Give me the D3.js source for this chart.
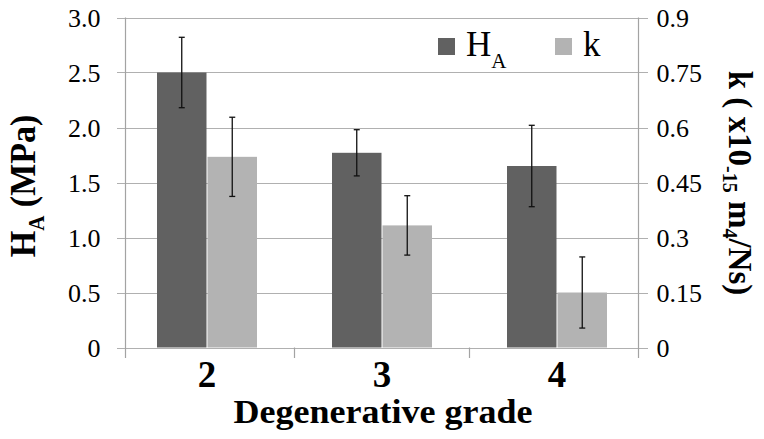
<!DOCTYPE html>
<html>
<head>
<meta charset="utf-8">
<script src="https://cdn.jsdelivr.net/npm/d3@7"></script>
<style>
  html, body { margin: 0; padding: 0; background: #fff; }
  svg { display: block; }
</style>
</head>
<body>
<svg id="chart" width="764" height="439"></svg>
<script>
// ---- data ----
const categories = ["2", "3", "4"];
const seriesNames = ["HA", "k"];
const haValues = [2.50, 1.77, 1.65];
const haErrors = [0.32, 0.21, 0.37];
const kValues = [0.52, 0.333, 0.15];
const kErrors = [0.108, 0.081, 0.097];
const leftTicks = [0, 0.5, 1.0, 1.5, 2.0, 2.5, 3.0];
const leftTickLabels = ["0", "0.5", "1.0", "1.5", "2.0", "2.5", "3.0"];
const rightTicks = [0, 0.15, 0.3, 0.45, 0.6, 0.75, 0.9];
const rightTickLabels = ["0", "0.15", "0.3", "0.45", "0.6", "0.75", "0.9"];

// ---- layout ----
const FONT = "'Liberation Serif', Tinos, 'Times New Roman', Times, 'Nimbus Roman', serif";
const svg = d3.select("#chart").style("font-family", FONT);
const plotLeft = 125.5, plotRight = 638.5, plotTop = 17.5, plotBottom = 347.5;
const darkColor = "#616161", lightColor = "#b3b3b3";
const gridColor = "#b0b0b0", axisColor = "#a3a3a3";

const yLeft = d3.scaleLinear().domain([0, 3]).range([plotBottom, plotTop]);
const yRight = d3.scaleLinear().domain([0, 0.9]).range([plotBottom, plotTop]);
const x0 = d3.scaleBand().domain(categories).range([119.5, 644.5]).padding(0);
const x1 = d3.scaleBand().domain(seriesNames).range([37.5, 137.5]).paddingInner(0.02);

// gridlines
svg.append("g").selectAll("line").data(leftTicks).join("line")
  .attr("x1", 117).attr("x2", 648)
  .attr("y1", d => Math.round(yLeft(d)) + 0.5).attr("y2", d => Math.round(yLeft(d)) + 0.5)
  .attr("stroke", gridColor).attr("stroke-width", 1.2);

// left axis (labels)
const leftAxis = d3.axisLeft(yLeft).tickValues(leftTicks)
  .tickFormat((d, i) => leftTickLabels[i]).tickSize(0).tickPadding(25);
const gL = svg.append("g").attr("transform", `translate(${plotLeft},0)`).call(leftAxis);
gL.attr("font-family", null).attr("font-size", null);
gL.select(".domain").remove();
gL.selectAll("text").style("font-size", "26px").style("font-family", FONT).attr("dy", "0.33em");

// right axis (labels)
const rightAxis = d3.axisRight(yRight).tickValues(rightTicks)
  .tickFormat((d, i) => rightTickLabels[i]).tickSize(0).tickPadding(18);
const gR = svg.append("g").attr("transform", `translate(${plotRight},0)`).call(rightAxis);
gR.attr("font-family", null).attr("font-size", null);
gR.select(".domain").remove();
gR.selectAll("text").style("font-size", "26px").style("font-family", FONT).attr("dy", "0.33em");

// vertical axis lines
svg.append("line").attr("x1", plotLeft).attr("x2", plotLeft).attr("y1", plotTop).attr("y2", 358)
  .attr("stroke", axisColor).attr("stroke-width", 1.2);
svg.append("line").attr("x1", plotRight).attr("x2", plotRight).attr("y1", plotTop).attr("y2", 358)
  .attr("stroke", axisColor).attr("stroke-width", 1.2);

// x category tick marks between groups
const boundaries = categories.slice(1).map(c => x0(c));
svg.append("g").selectAll("line").data(boundaries).join("line")
  .attr("x1", d => Math.round(d) - 0.5).attr("x2", d => Math.round(d) - 0.5)
  .attr("y1", plotBottom).attr("y2", 358)
  .attr("stroke", axisColor).attr("stroke-width", 1.2);

// bars
const rows = categories.map((c, i) => ({
  cat: c,
  items: [
    { s: "HA", v: haValues[i], e: haErrors[i], y: yLeft, color: darkColor },
    { s: "k", v: kValues[i], e: kErrors[i], y: yRight, color: lightColor }
  ]
}));

const groups = svg.append("g").selectAll("g").data(rows).join("g")
  .attr("transform", d => `translate(${x0(d.cat)},0)`);

groups.selectAll("rect").data(d => d.items).join("rect")
  .attr("x", d => x1(d.s))
  .attr("width", x1.bandwidth())
  .attr("y", d => d.y(d.v))
  .attr("height", d => d.y(0) - d.y(d.v))
  .attr("fill", d => d.color);

// error bars
const eb = groups.selectAll("g.err").data(d => d.items).join("g").attr("class", "err");
eb.append("line")
  .attr("x1", d => x1(d.s) + x1.bandwidth() / 2).attr("x2", d => x1(d.s) + x1.bandwidth() / 2)
  .attr("y1", d => d.y(d.v + d.e)).attr("y2", d => d.y(d.v - d.e))
  .attr("stroke", "#111").attr("stroke-width", 1.3);
["top", "bot"].forEach(k => {
  eb.append("line")
    .attr("x1", d => x1(d.s) + x1.bandwidth() / 2 - 3).attr("x2", d => x1(d.s) + x1.bandwidth() / 2 + 3)
    .attr("y1", d => d.y(k === "top" ? d.v + d.e : d.v - d.e))
    .attr("y2", d => d.y(k === "top" ? d.v + d.e : d.v - d.e))
    .attr("stroke", "#111").attr("stroke-width", 1.3);
});

// x tick labels
svg.append("g").selectAll("text").data(categories).join("text")
  .attr("x", d => x0(d) + x0.bandwidth() / 2)
  .attr("y", 387)
  .attr("text-anchor", "middle")
  .style("font-family", FONT)
  .style("font-size", "37px").style("font-weight", "bold")
  .text(d => d);

// x title
svg.append("text")
  .attr("transform", "translate(383,423) scale(1.06,1)")
  .attr("text-anchor", "middle")
  .style("font-family", FONT)
  .style("font-size", "34px").style("font-weight", "bold")
  .text("Degenerative grade");

// left title
const lt = svg.append("text")
  .attr("transform", "translate(35,186) scale(1.08,1) rotate(-90)")
  .attr("text-anchor", "middle")
  .style("font-family", FONT)
  .style("font-size", "34px").style("font-weight", "bold");
lt.append("tspan").text("H");
lt.append("tspan").attr("dy", 8).style("font-size", "21px").text("A");
lt.append("tspan").attr("dy", -8).text(" (MPa)");

// right title
const rt = svg.append("text")
  .attr("transform", "translate(729,183) rotate(90)")
  .attr("text-anchor", "middle")
  .style("font-family", FONT)
  .style("font-size", "33px").style("font-weight", "bold");
rt.append("tspan").text("k ( x10");
rt.append("tspan").attr("dy", 6).style("font-size", "20px").text("-15");
rt.append("tspan").attr("dy", -6).text(" m");
rt.append("tspan").attr("dy", 6).style("font-size", "20px").text("4");
rt.append("tspan").attr("dy", -6).text("/Ns)");

// legend
const legendItems = [
  { label: "H", sub: "A", color: darkColor, x: 438 },
  { label: "k", sub: null, color: lightColor, x: 555 }
];
const lg = svg.append("g").selectAll("g").data(legendItems).join("g")
  .attr("transform", d => `translate(${d.x},38)`);
lg.append("rect").attr("width", 17).attr("height", 17).attr("fill", d => d.color);
const lgt = lg.append("text").attr("x", 28).attr("y", 18)
  .style("font-family", FONT).style("font-size", "35px");
lgt.append("tspan").text(d => d.label);
lgt.filter(d => d.sub).append("tspan").attr("dy", 12).style("font-size", "21px").text(d => d.sub);
</script>
</body>
</html>
